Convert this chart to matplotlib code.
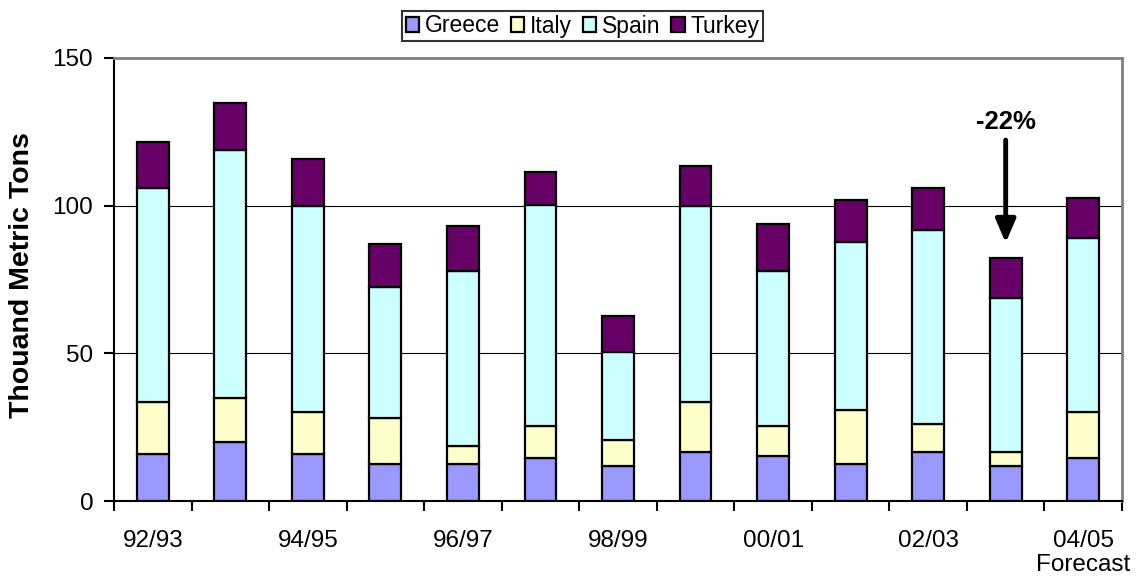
import matplotlib
matplotlib.use("Agg")
import matplotlib.pyplot as plt
import numpy as np

# ---- data (thousand metric tons) ----
seasons = ["92/93", "93/94", "94/95", "95/96", "96/97", "97/98", "98/99",
           "99/00", "00/01", "01/02", "02/03", "03/04", "04/05"]
greece = [15.9, 20.1, 15.9, 12.5, 12.5, 14.6, 12.0, 16.6, 15.3, 12.5, 16.6, 12.0, 14.6]
italy  = [17.7, 14.9, 14.2, 15.7, 6.2, 10.8, 8.6, 17.0, 10.2, 18.4, 9.6, 4.6, 15.6]
spain  = [72.4, 84.0, 69.9, 44.3, 59.3, 74.8, 29.9, 66.4, 52.5, 56.8, 65.6, 52.1, 59.0]
turkey = [15.6, 15.9, 15.8, 14.5, 15.1, 11.2, 12.2, 13.4, 15.8, 14.2, 14.2, 13.7, 13.5]

series = [("Greece", greece, "#9999FF"),
          ("Italy", italy, "#FFFFCC"),
          ("Spain", spain, "#CCFFFF"),
          ("Turkey", turkey, "#660066")]

plt.rcParams["font.family"] = ["Liberation Sans", "DejaVu Sans"]

fig = plt.figure(figsize=(11.36, 5.81), dpi=100)
ax = fig.add_axes([114 / 1136, 1 - 501 / 581, 1008 / 1136, 443 / 581])

x = np.arange(len(seasons))
bottom = np.zeros(len(seasons))
handles = []
for name, vals, col in series:
    b = ax.bar(x, vals, width=0.41, bottom=bottom, color=col,
               edgecolor="black", linewidth=1.6, label=name, zorder=3)
    handles.append(b)
    bottom += np.array(vals)

ax.set_xlim(-0.5, len(seasons) - 0.5)
ax.set_ylim(0, 150)
ax.set_yticks([0, 50, 100, 150])
ax.yaxis.grid(True, color="black", linewidth=0.8, zorder=0)
ax.set_axisbelow(True)

# ticks at category boundaries, labels on every other season
ax.set_xticks(np.arange(-0.5, len(seasons), 1.0))
ax.set_xticklabels([])
lab_pos = x[::2]
labels = [seasons[i] for i in lab_pos]
labels[-1] = "04/05\nForecast"
ax.set_xticks(lab_pos, minor=True)
ax.set_xticklabels(labels, minor=True, fontsize=17.5, linespacing=1.1)
ax.tick_params(axis="x", which="major", direction="out", length=7, width=1.5)
ax.tick_params(axis="x", which="minor", length=0, pad=21)
ax.tick_params(axis="y", direction="out", length=7, width=1.5, labelsize=17.5, pad=8)

for s in ["left", "bottom"]:
    ax.spines[s].set_linewidth(1.5)
    ax.spines[s].set_color("black")
for s in ["top", "right"]:
    ax.spines[s].set_linewidth(2)
    ax.spines[s].set_color("#808080")

fig.text(22 / 1136, 0.527, "Thouand Metric Tons", rotation=90,
         ha="center", va="center", fontsize=20.5, fontweight="bold")

# drop from 02/03 to 03/04
drop = (greece[11] + italy[11] + spain[11] + turkey[11]) / \
       (greece[10] + italy[10] + spain[10] + turkey[10]) - 1
ax.annotate("", xy=(11, 87.4), xytext=(11, 122.2),
            arrowprops=dict(arrowstyle="-|>,head_width=0.6,head_length=1.4",
                            color="black", lw=3.5, shrinkA=0, shrinkB=0),
            zorder=5)
ax.text(11, 128.3, f"{drop:.0%}", ha="center", va="center",
        fontsize=18.5, fontweight="bold")

leg = fig.legend(handles=handles, loc="center",
                 bbox_to_anchor=(582.5 / 1136, 1 - 26 / 581), ncol=4,
                 fontsize=16.5, frameon=True, fancybox=False, edgecolor="black",
                 handlelength=0.6, handleheight=0.6, handletextpad=0.25,
                 columnspacing=0.45, borderpad=0.15, borderaxespad=0)
leg.get_frame().set_linewidth(1.5)

fig.savefig("out.png", dpi=100)
